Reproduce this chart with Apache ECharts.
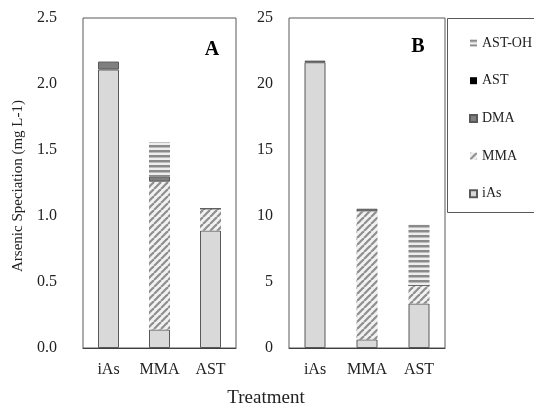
<!DOCTYPE html>
<html><head><meta charset="utf-8">
<script src="https://cdn.jsdelivr.net/npm/echarts@6/dist/echarts.min.js"></script>
<style>html,body{margin:0;padding:0;background:#fff}#c{width:534px;height:409px}</style>
</head><body><div id="c"></div>
<script>
const categories = ['iAs', 'MMA', 'AST'];
const speciesNames = ['iAs', 'MMA', 'DMA', 'AST', 'AST-OH'];
const legendOrder = ['AST-OH', 'AST', 'DMA', 'MMA', 'iAs'];
// Panel A values (mg L-1)
const A_iAs = [2.11, 0.14, 0.89];
const A_MMA = [0, 1.12, 0.165];
const A_DMA = [0.06, 0.04, 0];
const A_AST = [0, 0, 0];
const A_ASTOH = [0, 0.26, 0];
// Panel B values (mg L-1)
const B_iAs = [21.65, 0.65, 3.37];
const B_MMA = [0, 9.7, 1.38];
const B_DMA = [0.12, 0.2, 0];
const B_AST = [0, 0, 0];
const B_ASTOH = [0, 0, 4.6];
const A_ticks = ['0.0', '0.5', '1.0', '1.5', '2.0', '2.5'];
const B_ticks = ['0', '5', '10', '15', '20', '25'];

function hatchPattern() {
  const c = document.createElement('canvas'); c.width = 7; c.height = 7;
  const g = c.getContext('2d');
  g.fillStyle = '#f2f2f2'; g.fillRect(0, 0, 7, 7);
  g.strokeStyle = '#8f8f8f'; g.lineWidth = 2.2;
  for (let k = -7; k <= 14; k += 7) {
    g.beginPath(); g.moveTo(k, 7); g.lineTo(k + 7, 0); g.stroke();
  }
  return c;
}
function stripePattern() {
  const c = document.createElement('canvas'); c.width = 4; c.height = 5;
  const g = c.getContext('2d');
  g.fillStyle = '#eeeeee'; g.fillRect(0, 0, 4, 5);
  g.fillStyle = '#8a8a8a'; g.fillRect(0, 0, 4, 2.5);
  return c;
}
const styles = {
  'iAs': { color: '#d9d9d9', borderColor: '#595959', borderWidth: 1 },
  'MMA': { color: { image: hatchPattern(), repeat: 'repeat' } },
  'DMA': { color: '#7f7f7f', borderColor: '#595959', borderWidth: 1 },
  'AST': { color: '#000000' },
  'AST-OH': { color: { image: stripePattern(), repeat: 'repeat' } }
};
const dataA = [A_iAs, A_MMA, A_DMA, A_AST, A_ASTOH];
const dataB = [B_iAs, B_MMA, B_DMA, B_AST, B_ASTOH];

const font = 'Liberation Serif';
const series = [];
[dataA, dataB].forEach((set, gi) => {
  set.forEach((vals, si) => {
    series.push({
      type: 'bar', name: speciesNames[si], stack: 'p' + gi,
      xAxisIndex: gi, yAxisIndex: gi, barWidth: 21,
      data: vals, itemStyle: styles[speciesNames[si]],
      emphasis: { disabled: true }, animation: false
    });
  });
});

function yAxis(gi, max, interval, ticks, margin) {
  return {
    type: 'value', gridIndex: gi, min: 0, max: max, interval: interval,
    axisLine: { show: false }, axisTick: { show: false }, splitLine: { show: false },
    axisLabel: { margin: margin, fontFamily: font, fontSize: 16, color: '#222',
      formatter: v => ticks[Math.round(v / interval)] }
  };
}
function xAxis(gi) {
  return {
    type: 'category', gridIndex: gi, data: categories,
    axisLine: { lineStyle: { color: '#404040', width: 1 } }, axisTick: { show: false },
    axisLabel: { interval: 0, hideOverlap: false, margin: 14, fontFamily: font, fontSize: 16, color: '#222' }
  };
}
const chart = echarts.init(document.getElementById('c'), null, { renderer: 'canvas' });
chart.setOption({
  backgroundColor: '#fff',
  animation: false,
  grid: [
    { left: 83, top: 18, width: 153, height: 330, show: true, borderColor: '#595959', borderWidth: 1, backgroundColor: 'transparent' },
    { left: 289, top: 18, width: 156, height: 330, show: true, borderColor: '#595959', borderWidth: 1, backgroundColor: 'transparent' }
  ],
  xAxis: [xAxis(0), xAxis(1)],
  yAxis: [yAxis(0, 2.5, 0.5, A_ticks, 26), yAxis(1, 25, 5, B_ticks, 16)],
  legend: {
    data: legendOrder, orient: 'vertical', left: 464, top: 31,
    itemWidth: 7, itemHeight: 7, itemGap: 23.7, icon: 'rect',
    textStyle: { fontFamily: font, fontSize: 14, color: '#222' },
    selectedMode: false
  },
  series: series,
  graphic: [
    { type: 'rect', shape: { x: 447.5, y: 18.5, width: 100, height: 194 }, style: { fill: 'none', stroke: '#595959', lineWidth: 1 }, silent: true },
    { type: 'text', x: 212, y: 50, style: { text: 'A', font: 'bold 20px "Liberation Serif"', fill: '#000', align: 'center', verticalAlign: 'middle' } },
    { type: 'text', x: 418, y: 47, style: { text: 'B', font: 'bold 20px "Liberation Serif"', fill: '#000', align: 'center', verticalAlign: 'middle' } },
    { type: 'text', x: 18, y: 186, rotation: Math.PI / 2, style: { text: 'Arsenic Speciation (mg L-1)', font: '15px "Liberation Serif"', fill: '#222', align: 'center', verticalAlign: 'middle' } },
    { type: 'text', x: 266, y: 398, style: { text: 'Treatment', font: '19px "Liberation Serif"', fill: '#222', align: 'center', verticalAlign: 'middle' } }
  ]
});
</script></body></html>
